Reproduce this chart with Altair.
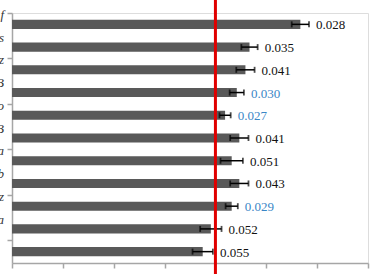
import altair as alt
import pandas as pd

# row order top -> bottom
values = [5.67, 4.67, 4.59, 4.42, 4.19, 4.47, 4.32, 4.47, 4.32, 3.91, 3.75]
errors = [0.17, 0.16, 0.18, 0.14, 0.11, 0.18, 0.22, 0.18, 0.12, 0.21, 0.20]
labels = ["0.028", "0.035", "0.041", "0.030", "0.027", "0.041", "0.051", "0.043", "0.029", "0.052", "0.055"]
highlight = [False, False, False, True, True, False, False, False, True, False, False]
axis_fragments = ["f", "s", "z", "B", "o", "B", "a", "b", "z", "a"]
ref_value = [4.0]

df = pd.DataFrame({
    "i": list(range(len(values))),
    "value": values,
    "err": errors,
    "label": labels,
    "hl": highlight,
})
frag_df = pd.DataFrame({"k": list(range(len(axis_fragments))), "frag": axis_fragments})

W, H = 356, 250

xscale = alt.Scale(domain=[0, 7], nice=False, zero=True)
yscale = alt.Scale(domain=[0, 11], reverse=True, nice=False)

base = alt.Chart(df).transform_calculate(
    y0="datum.i + 0.3", y1="datum.i + 0.7", yc="datum.i + 0.5",
    lo="datum.value - datum.err", hi="datum.value + datum.err",
)

bars = base.mark_bar(color="#595959").encode(
    x=alt.X("value:Q", scale=xscale,
            axis=alt.Axis(values=list(range(8)), labels=False, title=None, grid=False,
                          domainColor="#a6a6a6", tickColor="#a6a6a6", tickSize=5,
                          domainWidth=1.5, tickWidth=1.5)),
    x2=alt.value(0),
    y=alt.Y("y0:Q", scale=yscale,
            axis=alt.Axis(values=list(range(12)), title=None, grid=False, labels=False,
                          tickSize=5, domainColor="#a6a6a6",
                          tickColor="#a6a6a6", domainWidth=1.5, tickWidth=1.5)),
    y2="y1:Q",
)

frags = alt.Chart(frag_df).mark_text(
    align="right", baseline="middle", font="Liberation Serif", fontStyle="italic",
    fontSize=13, color="#333333", dy=2,
).encode(
    x=alt.value(-8),
    y=alt.Y("k:Q", scale=yscale),
    text="frag:N",
)

err_rule = base.mark_rule(color="black", strokeWidth=1.5).encode(
    x=alt.X("lo:Q", scale=xscale), x2="hi:Q",
    y=alt.Y("yc:Q", scale=yscale),
)
cap_lo = base.mark_tick(color="black", thickness=1.8, size=6, orient="vertical").encode(
    x=alt.X("lo:Q", scale=xscale), y=alt.Y("yc:Q", scale=yscale),
)
cap_hi = base.mark_tick(color="black", thickness=1.8, size=6, orient="vertical").encode(
    x=alt.X("hi:Q", scale=xscale), y=alt.Y("yc:Q", scale=yscale),
)

text = base.mark_text(align="left", baseline="middle", dx=7, dy=1,
                      font="Liberation Serif", fontSize=13).encode(
    x=alt.X("hi:Q", scale=xscale), y=alt.Y("yc:Q", scale=yscale),
    text="label:N",
    color=alt.condition("datum.hl", alt.value("#3a86c6"), alt.value("#111111")),
)

ref = alt.Chart(pd.DataFrame({"r": ref_value})).mark_rule(color="#e00000", strokeWidth=3).encode(
    x=alt.X("r:Q", scale=xscale),
    y=alt.value(-14), y2=alt.value(H + 12),
)

chart = alt.layer(bars, frags, err_rule, cap_lo, cap_hi, text, ref).properties(
    width=W, height=H,
    autosize=alt.AutoSizeParams(type="none"),
    padding={"left": 12, "top": 13, "right": 3, "bottom": 11},
).configure_view(stroke=None).configure(background="white")

chart.save("out.html", embed_options={"renderer": "svg", "actions": False})
